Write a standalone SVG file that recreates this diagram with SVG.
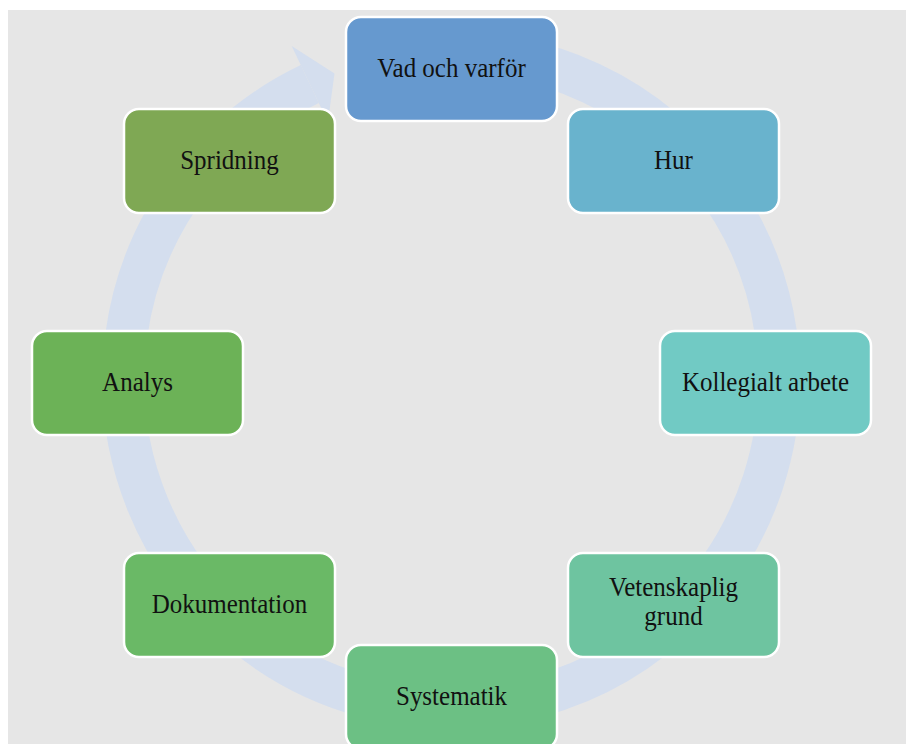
<svg xmlns="http://www.w3.org/2000/svg" width="906" height="744" viewBox="0 0 906 744">
<defs>
<style>
.node rect{stroke:#ffffff;stroke-width:2.5}
.node text{font-family:"Liberation Serif","Times New Roman",serif;font-size:25px;fill:#111111;text-anchor:middle}
.ring{fill:none;stroke:#d4deee;stroke-width:42;stroke-linecap:butt}
.head{fill:#d4deee}
</style>
</defs>
<rect x="0" y="0" width="906" height="744" fill="#ffffff"/>
<rect x="8" y="10" width="898" height="734" fill="#e6e6e6"/>
<g id="connectors">
<path class="ring" d="M 422.4 53.2 A 328 328 0 1 1 309.8 84.0"/>
<polygon class="head" points="291.7,46 334.5,73.4 327.9,121.9 309.8,84"/>
</g>
<g id="n1" class="node"><rect x="346" y="17" width="211" height="104" rx="15" fill="#6699cf"/><text transform="translate(451.5,76.5) scale(1,1.1)">Vad och varför</text></g>
<g id="n2" class="node"><rect x="568" y="109" width="211" height="104" rx="15" fill="#69b3cd"/><text transform="translate(673.5,168.5) scale(1,1.1)">Hur</text></g>
<g id="n3" class="node"><rect x="660" y="331" width="211" height="104" rx="15" fill="#71cac4"/><text transform="translate(765.5,390.5) scale(1,1.1)">Kollegialt arbete</text></g>
<g id="n4" class="node"><rect x="568" y="553" width="211" height="104" rx="15" fill="#6ec4a0"/><text transform="translate(673.5,596) scale(1,1.05)">Vetenskaplig</text><text transform="translate(673.5,624.5) scale(1,1.05)">grund</text></g>
<g id="n5" class="node"><rect x="346" y="645" width="211" height="104" rx="15" fill="#6cc084"/><text transform="translate(451.5,704.5) scale(1,1.1)">Systematik</text></g>
<g id="n6" class="node"><rect x="124" y="553" width="211" height="104" rx="15" fill="#6ab966"/><text transform="translate(229.5,612.5) scale(1,1.1)">Dokumentation</text></g>
<g id="n7" class="node"><rect x="32" y="331" width="211" height="104" rx="15" fill="#6cb257"/><text transform="translate(137.5,390.5) scale(1,1.1)">Analys</text></g>
<g id="n8" class="node"><rect x="124" y="109" width="211" height="104" rx="15" fill="#7fa854"/><text transform="translate(229.5,168.5) scale(1,1.1)">Spridning</text></g>
</svg>
